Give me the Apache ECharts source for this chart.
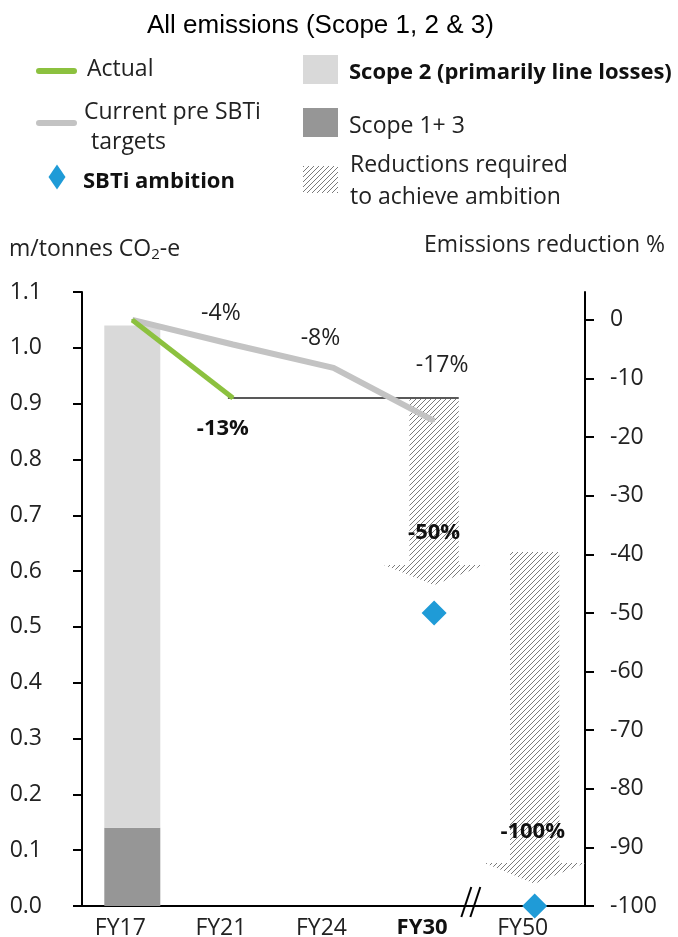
<!DOCTYPE html>
<html>
<head>
<meta charset="utf-8">
<script src="https://cdn.jsdelivr.net/npm/echarts@6/dist/echarts.min.js"></script>
<style>
  html, body { margin: 0; padding: 0; background: #fff; }
  #chart { width: 678px; height: 937px; }
</style>
</head>
<body>
<div id="chart"></div>
<script>
// emissions pathway - m/tonnes CO2-e, left axis; % reduction on the right axis
var categories = ['FY17', 'FY21', 'FY24', 'FY30', 'FY50'];
var scope13 = [0.14, null, null, null, null];
var scope2 = [0.90, null, null, null, null];
var actual = [1.05, 0.91, null, null, null];
var preSbti = [1.05, 1.006, 0.964, 0.869, null];
var sbtiAmbition = [null, null, null, 0.525, 0];
// [category index, top of arrow, arrow head base, arrow tip]
var reductions = [[3, 0.91, 0.611, 0.575], [4, 0.634, 0.077, 0.04]];
// flat line from FY21 actual across to FY30
var flatLine = [[1, 3, 0.91]];
var rightTicks = [0, -10, -20, -30, -40, -50, -60, -70, -80, -90, -100];

var baseEmission = actual[0];
var FONT = '"Open Sans", sans-serif';
var TXT = '#222';

function pct(v) {
    return Math.round((v / baseEmission - 1) * 100) + '%';
}

// hatch fill
function makeHatch(size, color) {
    var c = document.createElement('canvas');
    c.width = size; c.height = size;
    var ctx = c.getContext('2d');
    ctx.fillStyle = '#fff';
    ctx.fillRect(0, 0, size, size);
    ctx.strokeStyle = color;
    ctx.lineWidth = 1;
    ctx.beginPath();
    ctx.moveTo(0, size); ctx.lineTo(size, 0);
    ctx.moveTo(-1, 1); ctx.lineTo(1, -1);
    ctx.moveTo(size - 1, size + 1); ctx.lineTo(size + 1, size - 1);
    ctx.stroke();
    return { image: c, repeat: 'repeat' };
}
var hatch = makeHatch(5, '#7a7a7a');

var chart = echarts.init(document.getElementById('chart'));

// label offsets for the % labels
var greyOffsets = [null, [-12, -31], [-13, -29], [8, -55], null];
var ambitionOffsets = [null, null, null, [0, -80], [-2, -74]];

function labelled(arr, offsets, bold) {
    return arr.map(function (v, i) {
        if (v == null || !offsets[i]) return v;
        return {
            value: v,
            label: {
                show: true, position: 'inside', offset: offsets[i],
                formatter: pct(v), fontFamily: FONT, fontSize: bold ? 22 : 23,
                fontWeight: bold ? 'bold' : 'normal', color: bold ? '#111' : TXT
            }
        };
    });
}

option = {
    animation: false,
    title: [
        {
            text: 'All emissions (Scope 1, 2 & 3)',
            left: 142, top: 8,
            textStyle: { fontFamily: '"Liberation Sans", Arial, sans-serif', fontSize: 26, fontWeight: 'normal', color: '#000' }
        },
        {
            text: 'm/tonnes CO{sub|2}-e',
            left: 4, top: 232,
            textStyle: {
                fontFamily: FONT, fontSize: 23, fontWeight: 'normal', color: TXT,
                rich: { sub: { fontFamily: FONT, fontSize: 15, color: TXT, verticalAlign: 'bottom', padding: [10, 0, 0, 0] } }
            }
        },
        {
            text: 'Emissions reduction %',
            right: 8, top: 229,
            textStyle: { fontFamily: FONT, fontSize: 23, fontWeight: 'normal', color: TXT }
        }
    ],
    grid: { left: 82, right: 93, top: 292, bottom: 31, containLabel: false, outerBoundsMode: 'none' },
    xAxis: {
        type: 'category',
        data: categories,
        axisLine: { lineStyle: { color: '#000', width: 2 } },
        axisTick: { show: false },
        axisLabel: {
            interval: 0,
            margin: 11,
            padding: [0, 24, 0, 0],
            fontFamily: FONT, fontSize: 23, color: TXT,
            formatter: function (v) { return v === 'FY30' ? '{b|' + v + '}' : v; },
            rich: { b: { fontFamily: FONT, fontSize: 22, fontWeight: 'bold', color: '#111' } }
        }
    },
    yAxis: [
        {
            type: 'value', min: 0, max: 1.1, interval: 0.1,
            axisLine: { show: true, lineStyle: { color: '#000', width: 2 } },
            axisTick: { show: true, length: 9, lineStyle: { color: '#000', width: 2 } },
            splitLine: { show: false },
            axisLabel: {
                margin: 40, fontFamily: FONT, fontSize: 23, color: TXT,
                formatter: function (v) { return v.toFixed(1); }
            }
        },
        {
            type: 'value', position: 'right',
            min: -100, max: (1.1 / baseEmission - 1) * 100,
            axisLine: { show: true, lineStyle: { color: '#000', width: 2 } },
            axisTick: { show: true, length: 9, customValues: rightTicks, lineStyle: { color: '#000', width: 2 } },
            splitLine: { show: false },
            axisLabel: {
                margin: 25, fontFamily: FONT, fontSize: 23, color: TXT,
                customValues: rightTicks
            }
        }
    ],
    series: [
        {
            name: 'Scope 1+ 3', type: 'bar', stack: 'fy17', barWidth: 56,
            itemStyle: { color: '#969696' }, data: scope13, z: 2
        },
        {
            name: 'Scope 2 (primarily line losses)', type: 'bar', stack: 'fy17', barWidth: 56,
            itemStyle: { color: '#d9d9d9' }, data: scope2, z: 2
        },
        {
            name: 'Reductions required to achieve ambition', type: 'custom', z: 2,
            data: reductions,
            renderItem: function (params, api) {
                var top = api.coord([api.value(0), api.value(1)]);
                var baseY = api.coord([api.value(0), api.value(2)])[1];
                var tipY = api.coord([api.value(0), api.value(3)])[1];
                var band = api.size([1, 0])[0];
                var cx = top[0], bw = band * 0.245, hw = band * 0.5;
                return {
                    type: 'polygon',
                    shape: { points: [
                        [cx - bw, top[1]], [cx + bw, top[1]], [cx + bw, baseY], [cx + hw, baseY],
                        [cx, tipY], [cx - hw, baseY], [cx - bw, baseY]
                    ] },
                    style: { fill: hatch, stroke: null }
                };
            }
        },
        {
            name: 'flat', type: 'custom', z: 3,
            data: flatLine,
            renderItem: function (params, api) {
                var a = api.coord([api.value(0), api.value(2)]);
                var b = api.coord([api.value(1), api.value(2)]);
                var band = api.size([1, 0])[0];
                return {
                    type: 'line',
                    shape: { x1: a[0] - 5, y1: a[1], x2: b[0] + band * 0.245, y2: b[1] },
                    style: { stroke: '#595959', lineWidth: 2 }
                };
            }
        },
        {
            name: 'Current pre SBTi targets', type: 'line', z: 4,
            data: labelled(preSbti, greyOffsets, false),
            connectNulls: true,
            symbol: 'circle', symbolSize: 2,
            itemStyle: { color: '#c3c3c3' },
            lineStyle: { color: '#c3c3c3', width: 6 }
        },
        {
            name: 'Actual', type: 'line', z: 5,
            data: labelled(actual, [null, [-10, 31], null, null, null], true),
            symbol: 'circle', symbolSize: 2,
            itemStyle: { color: '#8cc13f' },
            lineStyle: { color: '#8cc13f', width: 5 }
        },
        {
            name: 'SBTi ambition', type: 'scatter', z: 6,
            data: labelled(sbtiAmbition, ambitionOffsets, true),
            symbol: 'diamond', symbolSize: 25,
            itemStyle: { color: '#1f9bd7', opacity: 1 }
        }
    ]
};
chart.setOption(option);

// legend + axis break drawn on top
var p30 = chart.convertToPixel({ xAxisIndex: 0, yAxisIndex: 0 }, ['FY30', 0]);
var p50 = chart.convertToPixel({ xAxisIndex: 0, yAxisIndex: 0 }, ['FY50', 0]);
var bx = p30[0] + (p50[0] - p30[0]) * 0.37, by = p30[1];

function legendText(t, x, y, bold) {
    return { type: 'text', x: x, y: y, style: {
        text: t, font: (bold ? 'bold 22px ' : '23px ') + FONT, fill: bold ? '#111' : TXT, verticalAlign: 'middle'
    } };
}

chart.setOption({
    graphic: [
        { type: 'line', shape: { x1: 39, y1: 71, x2: 74, y2: 71 }, style: { stroke: '#8cc13f', lineWidth: 6, lineCap: 'round' } },
        legendText('Actual', 87, 69),
        { type: 'line', shape: { x1: 39, y1: 123, x2: 74, y2: 123 }, style: { stroke: '#c3c3c3', lineWidth: 6, lineCap: 'round' } },
        legendText('Current pre SBTi', 84, 112),
        legendText('targets', 91, 142),
        { type: 'polygon', shape: { points: [[57, 164.5], [65.5, 177], [57, 189.5], [48.5, 177]] }, style: { fill: '#1f9bd7' } },
        legendText('SBTi ambition', 83, 182, true),
        { type: 'rect', shape: { x: 303, y: 55, width: 35, height: 29 }, style: { fill: '#d9d9d9' } },
        legendText('Scope 2 (primarily line losses)', 349, 73, true),
        { type: 'rect', shape: { x: 303, y: 108, width: 35, height: 29 }, style: { fill: '#969696' } },
        legendText('Scope 1+ 3', 349, 126),
        { type: 'rect', shape: { x: 303, y: 166, width: 35, height: 27 }, style: { fill: hatch } },
        legendText('Reductions required', 350, 165),
        legendText('to achieve ambition', 350, 197),
        // axis break
        { type: 'line', shape: { x1: bx - 10, y1: by + 11, x2: bx, y2: by - 19 }, style: { stroke: '#000', lineWidth: 2 }, z: 100 },
        { type: 'line', shape: { x1: bx - 1, y1: by + 11, x2: bx + 9, y2: by - 19 }, style: { stroke: '#000', lineWidth: 2 }, z: 100 }
    ]
});
</script>
</body>
</html>
